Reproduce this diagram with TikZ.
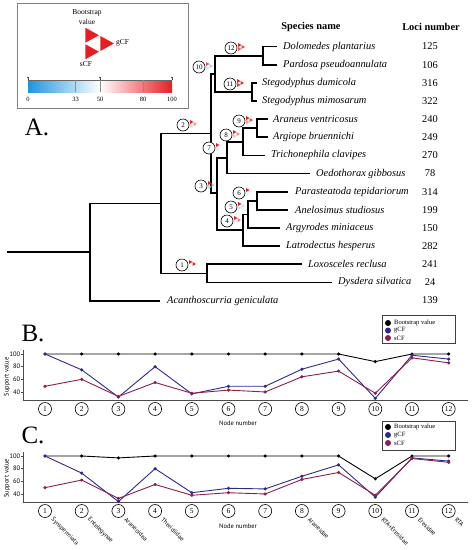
\documentclass[tikz,border=0pt]{standalone}
\usepackage{fontspec}
\setmainfont{Liberation Serif}
\newfontfamily\chartsans{PT Sans}
\definecolor{cred}{RGB}{230,30,36}
\definecolor{cblue}{RGB}{30,150,222}
\definecolor{gcfc}{RGB}{46,42,140}
\definecolor{scfc}{RGB}{140,30,78}
\definecolor{boxgray}{RGB}{130,130,130}
\newcommand\setvalcolor[2]{%
  \pgfmathtruncatemacro\vcpct{abs(2*(#2)-100)}%
  \ifnum#2<50 \colorlet{#1}{cblue!\vcpct!white}\else\colorlet{#1}{cred!\vcpct!white}\fi}
\newcommand\flagat[5]{%
  \setvalcolor{fbs}{#3}\setvalcolor{fg}{#4}\setvalcolor{fs}{#5}%
  \begin{scope}[shift={(#1,#2)}]
    \fill[fbs] (0,-4) -- (3.5,-2) -- (0,0) -- cycle;
    \fill[fg] (3.5,-2) -- (7,0) -- (3.5,2) -- cycle;
    \fill[fs] (0,0) -- (3.5,2) -- (0,4) -- cycle;
  \end{scope}}
\begin{document}
\begin{tikzpicture}[x=1pt,y=-1pt,
  treeline/.style={line width=1.8pt},
  sp/.style={anchor=west,inner sep=0pt,font=\fontsize{10.4}{12}\selectfont\itshape},
  loci/.style={inner sep=0pt,font=\fontsize{10.4}{12}\selectfont},
  hdr/.style={inner sep=0pt,font=\fontsize{10.4}{12}\selectfont\bfseries},
  numc/.style={circle,draw,line width=0.6pt,fill=white,minimum size=12pt,inner sep=0pt,font=\fontsize{7}{7}\selectfont},
  chc/.style={circle,draw,line width=0.6pt,fill=white,minimum size=13pt,inner sep=0pt,font=\fontsize{7.5}{8}\selectfont},
  panel/.style={inner sep=0pt,font=\fontsize{25}{25}\selectfont},
  small/.style={inner sep=0pt,font=\fontsize{7.5}{8}\selectfont},
  tiny/.style={inner sep=0pt,font=\fontsize{6.5}{7}\selectfont},
  axlab/.style={inner sep=0pt,font=\chartsans\fontsize{6.5}{7}\selectfont},
  rotlab/.style={inner sep=0pt,anchor=west,rotate=-45,font=\chartsans\fontsize{6.2}{7}\selectfont},
  axisline/.style={line width=0.5pt,black!70},
  bsline/.style={line width=0.9pt,black,mark=*,mark size=1.1pt,mark options={fill=black}},
  gline/.style={line width=0.9pt,gcfc,mark=*,mark size=1.1pt,mark options={fill=gcfc}},
  sline/.style={line width=0.9pt,scfc,mark=*,mark size=1.1pt,mark options={fill=scfc}},
  legbox/.style={draw=black!75,line width=0.6pt}
]
\useasboundingbox (0,0) rectangle (473,550);

% ---------- legend box of the tree ----------
\draw[boxgray,line width=0.8pt] (17,3) rectangle (188,108);
\node[small] (lbBoot) at (87,13) {Bootstrap};
\node[small] (lbVal) at (87,22) {value};
\begin{scope}
  \fill[cred,draw=white,line width=0.7pt] (85,27) -- (100,35.25) -- (85,43.5) -- cycle;
  \fill[cred,draw=white,line width=0.7pt] (100,35.25) -- (115,43.5) -- (100,51.75) -- cycle;
  \fill[cred,draw=white,line width=0.7pt] (85,43.5) -- (100,51.75) -- (85,60) -- cycle;
\end{scope}
\node[small,anchor=west] (lbG) at (116,43) {gCF};
\node[small] (lbS) at (86,64) {sCF};
\shade[left color=cblue,right color=white] (28,80) rectangle (100,92);
\shade[left color=white,right color=cred] (100,80) rectangle (172,92);
\draw[black!60,line width=0.4pt] (28,80) -- (172,80);
\foreach \xx in {75.5,100,143} \draw[black!45,line width=0.4pt] (\xx,80) -- (\xx,92);
\foreach \xx in {28,100,172} {
  \draw[black!70,line width=0.5pt] (\xx,80) -- (\xx,77);
  \draw[black!70,line width=0.7pt] (\xx-1.2,77) -- (\xx+1.2,77);
}
\node[tiny] (cb0) at (28,99) {0};
\node[tiny] (cb33) at (75.5,99) {33};
\node[tiny] (cb50) at (100,99) {50};
\node[tiny] (cb80) at (143,99) {80};
\node[tiny] (cb100) at (172,99) {100};

\node[panel] (labA) at (37,127) {A.};

% ---------- headers ----------
\node[hdr] (hSp) at (311,27) {Species name};
\node[hdr] (hLo) at (431,27) {Loci number};

% ---------- leaves ----------
\coordinate (lDol) at (277,46.5);
\coordinate (lPar) at (277,64.65);
\coordinate (lSteD) at (257,82.8);
\coordinate (lSteM) at (257,100.95);
\coordinate (lAra) at (268,119.1);
\coordinate (lArgi) at (268,137.25);
\coordinate (lTri) at (265,155.4);
\coordinate (lOed) at (310,173.55);
\coordinate (lPte) at (288,191.7);
\coordinate (lAne) at (288,209.85);
\coordinate (lArgy) at (280,228);
\coordinate (lLat) at (280,246.15);
\coordinate (lLox) at (302,264.3);
\coordinate (lDys) at (332,282.45);
\coordinate (lAca) at (160,300.6);

\node[sp] (tDol) at (283,46.5) {Dolomedes plantarius};
\node[sp] (tPar) at (283,64.65) {Pardosa pseudoannulata};
\node[sp] (tSteD) at (262,82.8) {Stegodyphus dumicola};
\node[sp] (tSteM) at (262,100.95) {Stegodyphus mimosarum};
\node[sp] (tAra) at (273,119.1) {Araneus ventricosus};
\node[sp] (tArgi) at (273,137.25) {Argiope bruennichi};
\node[sp] (tTri) at (271,155.4) {Trichonephila clavipes};
\node[sp] (tOed) at (316,173.55) {Oedothorax gibbosus};
\node[sp] (tPte) at (295,191.7) {Parasteatoda tepidariorum};
\node[sp] (tAne) at (295,209.85) {Anelosimus studiosus};
\node[sp] (tArgy) at (286,228) {Argyrodes miniaceus};
\node[sp] (tLat) at (286,246.15) {Latrodectus hesperus};
\node[sp] (tLox) at (308,264.3) {Loxosceles reclusa};
\node[sp] (tDys) at (338,282.45) {Dysdera silvatica};
\node[sp] (tAca) at (167,300.6) {Acanthoscurria geniculata};

\node[loci] (nDol) at (430,46.5) {125};
\node[loci] (nPar) at (430,64.65) {106};
\node[loci] (nSteD) at (430,82.8) {316};
\node[loci] (nSteM) at (430,100.95) {322};
\node[loci] (nAra) at (430,119.1) {240};
\node[loci] (nArgi) at (430,137.25) {249};
\node[loci] (nTri) at (430,155.4) {270};
\node[loci] (nOed) at (430,173.55) {78};
\node[loci] (nPte) at (430,191.7) {314};
\node[loci] (nAne) at (430,209.85) {199};
\node[loci] (nArgy) at (430,228) {150};
\node[loci] (nLat) at (430,246.15) {282};
\node[loci] (nLox) at (430,264.3) {241};
\node[loci] (nDys) at (430,282.45) {24};
\node[loci] (nAca) at (430,300.6) {139};

% ---------- internal nodes ----------
\coordinate (n12) at (263,55.6);
\coordinate (n11) at (252,91.9);
\coordinate (n10) at (215,73.7);
\coordinate (n9) at (257,128.2);
\coordinate (n8) at (243,141.8);
\coordinate (n7) at (227,157.7);
\coordinate (n6) at (257,200.8);
\coordinate (n5) at (248,214.4);
\coordinate (n4) at (243,230.3);
\coordinate (n3) at (217,193);
\coordinate (n2) at (211,133.4);
\coordinate (n1) at (207,273.4);
\coordinate (n0) at (161,203.4);
\coordinate (nr) at (90,252);
\coordinate (rootend) at (7,252);

\draw[treeline] (rootend) -- (nr);
\draw[treeline] (n0) -| (nr) |- (lAca);
\draw[treeline] (n2) -| (n0) |- (n1);
\draw[treeline] (lLox) -| (n1) |- (lDys);
\draw[treeline] (n10) -| (n2) |- (n3);
\draw[treeline] (n12) -| (n10) |- (n11);
\draw[treeline] (lDol) -| (n12) |- (lPar);
\draw[treeline] (lSteD) -| (n11) |- (lSteM);
\draw[treeline] (n7) -| (n3) |- (n4);
\draw[treeline] (n8) -| (n7) |- (lOed);
\draw[treeline] (n9) -| (n8) |- (lTri);
\draw[treeline] (lAra) -| (n9) |- (lArgi);
\draw[treeline] (n5) -| (n4) |- (lLat);
\draw[treeline] (n6) -| (n5) |- (lArgy);
\draw[treeline] (lPte) -| (n6) |- (lAne);

% ---------- node circles and flags ----------
\node[numc] (c1) at (182,265) {1};
\node[numc] (c2) at (183,125) {2};
\node[numc] (c3) at (201,186) {3};
\node[numc] (c4) at (227,221) {4};
\node[numc] (c5) at (231,207) {5};
\node[numc] (c6) at (239,193) {6};
\node[numc] (c7) at (209,148) {7};
\node[numc] (c8) at (226,135) {8};
\node[numc] (c9) at (239,121) {9};
\node[numc] (c10) at (199,67) {10};
\node[numc] (c11) at (230,84) {11};
\node[numc] (c12) at (231,48) {12};

\flagat{189}{264}{100}{100}{49}
\flagat{190}{124}{100}{75}{60}
\flagat{208}{185}{100}{32}{33}
\flagat{234}{220}{100}{80}{55}
\flagat{238}{206}{100}{37}{38}
\flagat{246}{192}{100}{49}{43}
\flagat{216}{147}{100}{49}{40}
\flagat{233}{134}{100}{76}{64}
\flagat{246}{120}{100}{92}{73}
\flagat{206}{66}{88}{30}{38}
\flagat{237}{83}{100}{98}{94}
\flagat{238}{47}{100}{92}{86}

% ---------- chart B ----------
\node[panel] (labB) at (33,333) {B.};
\begin{scope}[shift={(45,417.3)},x=36.7pt,y=0.633pt]
  \draw[axisline] (-0.6,106.3) -- (-0.6,27.3) -- (11.53,27.3);
  \foreach \v in {40,60,80,100} {
    \draw[axisline] (-0.6,\v) -- ++(-2pt,0);
    \node[axlab,anchor=east] at ([xshift=-2.5pt]-0.6,\v) {\v};
  }
  \node[axlab,rotate=90] (bSV) at (-1.035,63.7) {Support value};
  \node[axlab] (bNN) at (5.26,-9) {Node number};
  \draw[bsline] plot coordinates {(0,100) (1,100) (2,100) (3,100) (4,100) (5,100) (6,100) (7,100) (8,100) (9,88) (10,100) (11,100)};
  \draw[gline] plot coordinates {(0,100) (1,75) (2,32) (3,80) (4,37) (5,49) (6,49) (7,76) (8,92) (9,30) (10,98) (11,92)};
  \draw[sline] plot coordinates {(0,49) (1,60) (2,33) (3,55) (4,38) (5,43) (6,40) (7,64) (8,73) (9,38) (10,94) (11,86)};
  \foreach \i in {1,...,12} \node[chc] (bc\i) at (\i-1,13.1) {\i};
\end{scope}
\draw[legbox] (382,315) rectangle (455,343);
\fill[black] (388,323) circle (3pt);
\fill[gcfc] (388,330.5) circle (3pt);
\fill[scfc] (388,338) circle (3pt);
\node[tiny,anchor=west] (bL1) at (394,323) {Bootstrap value};
\node[tiny,anchor=west] (bL2) at (394,330.5) {gCF};
\node[tiny,anchor=west] (bL3) at (394,338) {sCF};

% ---------- chart C ----------
\node[panel] (labC) at (33,435) {C.};
\begin{scope}[shift={(45,519.3)},x=36.7pt,y=0.633pt]
  \draw[axisline] (-0.6,106.3) -- (-0.6,27.3) -- (11.53,27.3);
  \foreach \v in {40,60,80,100} {
    \draw[axisline] (-0.6,\v) -- ++(-2pt,0);
    \node[axlab,anchor=east] at ([xshift=-2.5pt]-0.6,\v) {\v};
  }
  \node[axlab,rotate=90] (cSV) at (-1.035,65) {Support value};
  \node[axlab] (cNN) at (5.26,-11.4) {Node number};
  \draw[bsline] plot coordinates {(0,100) (1,100) (2,97) (3,100) (4,100) (5,100) (6,100) (7,100) (8,100) (9,64) (10,100) (11,100)};
  \draw[gline] plot coordinates {(0,100) (1,73) (2,28) (3,80) (4,42) (5,49) (6,48) (7,68) (8,86) (9,35) (10,97) (11,92)};
  \draw[sline] plot coordinates {(0,50) (1,62) (2,33) (3,55) (4,38) (5,42) (6,40) (7,63) (8,74) (9,38) (10,96) (11,90)};
  \foreach \i in {1,...,12} \node[chc] (cc\i) at (\i-1,13.1) {\i};
  \foreach \i/\t in {1/Synspermiata,2/Entelegynae,3/Araneoidea,4/Theridiidae,8/Araneidae,10/RTA+Eresidae,11/Eresidae,12/RTA}
    \node[rotlab] (cl\i) at (\i-1+0.19,1) {\t};
\end{scope}
\draw[legbox] (382,421) rectangle (455,450);
\fill[black] (388,427) circle (3pt);
\fill[gcfc] (388,435) circle (3pt);
\fill[scfc] (388,443) circle (3pt);
\node[tiny,anchor=west] (cL1) at (394,427) {Bootstrap value};
\node[tiny,anchor=west] (cL2) at (394,435) {gCF};
\node[tiny,anchor=west] (cL3) at (394,443) {sCF};
\end{tikzpicture}
\end{document}
